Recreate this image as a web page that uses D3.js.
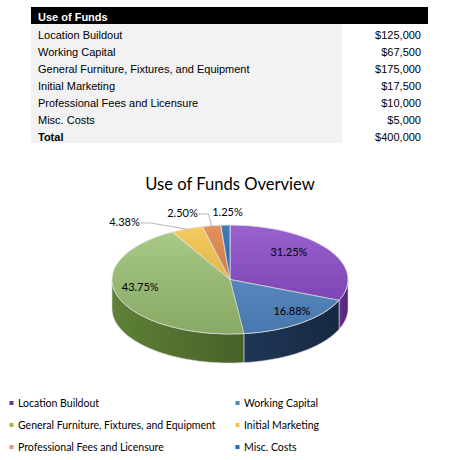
<!DOCTYPE html>
<html>
<head>
<meta charset="utf-8">
<script src="https://cdnjs.cloudflare.com/ajax/libs/d3/7.8.5/d3.min.js"></script>
<style>
  body { margin: 0; background: #fff; }
  svg { display: block; }
</style>
</head>
<body>
<div id="chart"></div>
<script>
// data
var categories = ['Location Buildout', 'Working Capital', 'General Furniture, Fixtures, and Equipment',
  'Initial Marketing', 'Professional Fees and Licensure', 'Misc. Costs'];
var amounts = [125000, 67500, 175000, 17500, 10000, 5000];
var totalLabel = 'Total';
var percentLabels = ['31.25%', '16.88%', '43.75%', '4.38%', '2.50%', '1.25%'];

var topColors = ['#8744c6', '#5088c6', '#9cc273', '#f3c143', '#dd7d3f', '#1b63ad'];
var sideColors = ['#57297e', '#1a2e48', '#4f6c2d', '#a8802a', '#97512a', '#133f6c'];
var legendColors = ['#7030a0', '#4f81bd', '#9bbb59', '#f2c14e', '#df9a6b', '#1f6fb0'];

var W = 461, H = 460;
var svg = d3.select('#chart').append('svg').attr('width', W).attr('height', H);
var fmt = d3.format('$,');

/* ---- table ---- */
var tbl = svg.append('g');
tbl.append('rect').attr('x', 31).attr('y', 7).attr('width', 397).attr('height', 17).attr('fill', '#000');
tbl.append('rect').attr('x', 31).attr('y', 24).attr('width', 311).attr('height', 119).attr('fill', '#f2f2f2');
tbl.append('text').attr('x', 38).attr('y', 20.5)
  .attr('font-family', 'Liberation Sans, Arial, sans-serif').attr('font-size', 11).attr('font-weight', 'bold')
  .attr('fill', '#fff').text('Use of Funds');

var rows = categories.map(function (c, i) { return { name: c, value: amounts[i], bold: false }; });
rows.push({ name: totalLabel, value: d3.sum(amounts), bold: true });

var row = tbl.selectAll('g.row').data(rows).enter().append('g').attr('class', 'row')
  .attr('transform', function (d, i) { return 'translate(0,' + (38.5 + i * 17) + ')'; })
  .attr('font-family', 'Liberation Sans, Arial, sans-serif').attr('font-size', 11).attr('fill', '#000');
row.append('text').attr('x', 38).attr('font-weight', function (d) { return d.bold ? 'bold' : null; })
  .text(function (d) { return d.name; });
row.append('text').attr('x', 421).attr('text-anchor', 'end').text(function (d) { return fmt(d.value); });

/* ---- title ---- */
svg.append('text').attr('x', 230).attr('y', 190).attr('text-anchor', 'middle')
  .attr('font-family', 'Lato, Open Sans, sans-serif').attr('font-size', 16.6).attr('fill', '#000')
  .text('Use of Funds Overview');

/* ---- 3d pie ---- */
var cx = 230, cy = 279.5, rx = 118, ry = 54.5, depth = 29;
var pie = d3.pie().sort(null).value(function (d) { return d; });
var arcs = pie(amounts);

function px(a, k) { return cx + rx * (k || 1) * Math.sin(a); }
function py(a, k) { return cy - ry * (k || 1) * Math.cos(a); }

var defs = svg.append('defs');
var shade = defs.append('linearGradient').attr('id', 'topShade').attr('x1', 0).attr('y1', 0).attr('x2', 0).attr('y2', 1);
shade.append('stop').attr('offset', '0%').attr('stop-color', '#fff').attr('stop-opacity', 0.16);
shade.append('stop').attr('offset', '100%').attr('stop-color', '#000').attr('stop-opacity', 0.12);
arcs.forEach(function (d, i) {
  var g = defs.append('linearGradient').attr('id', 'side' + i).attr('x1', 0).attr('y1', 0).attr('x2', 1).attr('y2', 0);
  g.append('stop').attr('offset', '0%').attr('stop-color', d3.color(sideColors[i]).brighter(0.5));
  g.append('stop').attr('offset', '100%').attr('stop-color', d3.color(sideColors[i]).darker(0.3));
});

// side walls: only the front half (angles between pi/2 and 3pi/2)
function wallPath(a0, a1) {
  var s = Math.max(a0, Math.PI / 2), e = Math.min(a1, 3 * Math.PI / 2);
  if (e <= s) return null;
  var n = 40, p = d3.path(), i, a;
  p.moveTo(px(s), py(s));
  for (i = 1; i <= n; i++) { a = s + (e - s) * i / n; p.lineTo(px(a), py(a)); }
  p.lineTo(px(e), py(e) + depth);
  for (i = n - 1; i >= 0; i--) { a = s + (e - s) * i / n; p.lineTo(px(a), py(a) + depth); }
  p.closePath();
  return p.toString();
}

var walls = svg.append('g');
arcs.forEach(function (d, i) {
  var w = wallPath(d.startAngle, d.endAngle);
  if (w) walls.append('path').attr('d', w).attr('fill', 'url(#side' + i + ')')
    .attr('stroke', '#d8d8d8').attr('stroke-width', 0.6);
});

var arc = d3.arc().innerRadius(0).outerRadius(rx);
var topG = svg.append('g').attr('transform', 'translate(' + cx + ',' + cy + ') scale(1,' + (ry / rx) + ')');
topG.selectAll('path.slice').data(arcs).enter().append('path').attr('class', 'slice')
  .attr('d', arc).attr('fill', function (d, i) { return topColors[i]; })
  .attr('stroke', '#e6e6e6').attr('stroke-width', 0.8).attr('vector-effect', 'non-scaling-stroke');
topG.append('ellipse').attr('rx', rx).attr('ry', rx).attr('fill', 'url(#topShade)');

// labels: radial factors inside, fixed spots for the thin slices outside
var labelLayout = [
  { kx: 0.6, ky: 0.92 },
  { kx: 0.87, ky: 0.72 },
  { kx: 0.8, ky: 0.45 },
  { ox: 124.5, oy: 222, lx: 188, ly: 230 },
  { ox: 182.5, oy: 213, lx: 212, ly: 226 },
  { ox: 227.5, oy: 212 }
];
var lab = svg.append('g').attr('font-family', 'Lato, Open Sans, sans-serif').attr('font-size', 11).attr('fill', '#000');
arcs.forEach(function (d, i) {
  var m = (d.startAngle + d.endAngle) / 2, L = labelLayout[i], x, y;
  if (L.ox !== undefined) {
    x = L.ox; y = L.oy;
    if (L.lx !== undefined) {
      var tw = 16;
      lab.append('polyline').attr('fill', 'none').attr('stroke', '#a6a6a6').attr('stroke-width', 0.8)
        .attr('points', [[x + tw, y + 1], [x + tw + 10, y + 1], [px(m, 0.99), py(m, 0.99)]].map(String).join(' '));
    }
  } else {
    x = cx + rx * L.kx * Math.sin(m);
    y = cy - ry * L.ky * Math.cos(m);
  }
  lab.append('text').attr('x', x).attr('y', y + 4).attr('text-anchor', 'middle').text(percentLabels[i]);
});

/* ---- legend ---- */
var leg = svg.append('g').attr('font-family', 'Lato, Open Sans, sans-serif').attr('font-size', 10.5).attr('fill', '#000');
var item = leg.selectAll('g').data(categories).enter().append('g')
  .attr('transform', function (d, i) { return 'translate(' + (i % 2 ? 235.5 : 9.5) + ',' + (403 + Math.floor(i / 2) * 22) + ')'; });
item.append('rect').attr('x', 0).attr('y', -2).attr('width', 4).attr('height', 4)
  .attr('fill', function (d, i) { return legendColors[i]; });
item.append('text').attr('x', 8.5).attr('y', 4).text(function (d) { return d; });
</script>
</body>
</html>
